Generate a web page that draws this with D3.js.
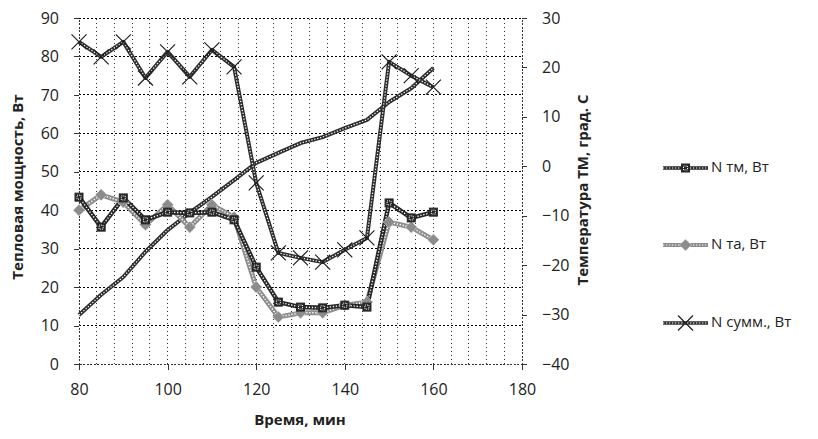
<!DOCTYPE html>
<html><head><meta charset="utf-8">
<script src="https://cdn.jsdelivr.net/npm/d3@7"></script>
<style>
html,body{margin:0;padding:0;background:#fff;}
text{font-family:"Open Sans","DejaVu Sans",sans-serif;fill:#222;}
</style></head>
<body><svg id="c" width="818" height="439"></svg>
<script>
const times = [80,85,90,95,100,105,110,115,120,125,130,135,140,145,150,155,160];
const nTm   = [43.4,35.6,43.2,37.5,39.5,39.3,39.5,37.5,25.2,16.1,14.8,14.6,15.3,14.8,41.9,38.0,39.5];
const nTa   = [40.0,44.0,42.1,36.2,41.4,35.6,41.4,38.2,20.0,12.2,13.3,13.3,15.3,16.1,36.9,35.6,32.3];
const nSum  = [83.8,79.9,83.8,74.4,81.2,74.7,81.7,77.3,47.1,28.9,27.6,26.5,29.7,32.8,78.6,75.0,72.0];
const tempTM= [-30.1,-26.0,-22.4,-17.3,-12.9,-9.4,-6.2,-2.8,0.7,2.7,4.7,5.9,7.7,9.4,13.0,15.8,19.9];
const xTicks = [80,100,120,140,160,180];
const yLeftTicks = [0,10,20,30,40,50,60,70,80,90];
const yRightTicks = [-40,-30,-20,-10,0,10,20,30];
const legendLabels = ["N тм, Вт","N та, Вт","N сумм., Вт"];

const svg = d3.select("#c");
const x = d3.scaleLinear([80,180],[79,522]);
const yL = d3.scaleLinear([0,90],[364,18]);
const yR = d3.scaleLinear([-40,30],[364,18]);

// gridlines
const grid = svg.append("g").attr("shape-rendering","crispEdges");
grid.selectAll("line.v").data(d3.range(84,180,4)).join("line")
  .attr("x1",d=>x(d)).attr("x2",d=>x(d)).attr("y1",yL(0)).attr("y2",yL(90))
  .attr("stroke","#333").attr("stroke-width",1).attr("stroke-dasharray","1.5,2.5");
grid.selectAll("line.h").data(yLeftTicks.slice(1)).join("line")
  .attr("x1",x(80)).attr("x2",x(180)).attr("y1",d=>yL(d)).attr("y2",d=>yL(d))
  .attr("stroke","#000").attr("stroke-width",1).attr("stroke-dasharray","2,2");

// axes
function styleAxis(g){
  g.attr("shape-rendering","crispEdges");
  g.select(".domain").attr("stroke","#333").attr("stroke-width",1).attr("stroke-dasharray","2,1.5");
  g.selectAll(".tick line").attr("stroke","#333").attr("stroke-width",1);
  g.selectAll(".tick text").style("font-size","16px").attr("fill","#222");
}
svg.append("g").attr("transform",`translate(0,${yL(0)})`)
  .call(d3.axisBottom(x).tickValues(xTicks).tickSize(6).tickPadding(14).tickSizeOuter(0))
  .call(styleAxis);
svg.append("g").attr("transform",`translate(${x(80)},0)`)
  .call(d3.axisLeft(yL).tickValues(yLeftTicks).tickSize(5).tickPadding(15).tickSizeOuter(0))
  .call(styleAxis);
svg.append("g").attr("transform",`translate(${x(180)},0)`)
  .call(d3.axisRight(yR).tickValues(yRightTicks).tickSize(5).tickPadding(15).tickSizeOuter(0))
  .call(styleAxis);

// titles
svg.append("text").attr("transform","translate(19,187) rotate(-90)").attr("text-anchor","middle")
  .attr("dominant-baseline","middle").style("font-size","15px").style("font-weight","bold").text("Тепловая мощность, Вт");
svg.append("text").attr("transform","translate(584,190) rotate(-90)").attr("text-anchor","middle")
  .attr("dominant-baseline","middle").style("font-size","15px").style("font-weight","bold").text("Температура ТМ, град. С");
svg.append("text").attr("x",300).attr("y",421).attr("text-anchor","middle")
  .attr("dominant-baseline","middle").style("font-size","15px").style("font-weight","bold").text("Время, мин");

// series
function beadLine(vals, yS, color, w, name){
  const line = d3.line().x((d,i)=>x(times[i])).y(d=>yS(d));
  const g = svg.append("g").attr("class",name);
  g.append("path").attr("d",line(vals)).attr("fill","none").attr("stroke",color)
    .attr("stroke-width",w).attr("stroke-linejoin","round");
  g.append("path").attr("d",line(vals)).attr("fill","none").attr("stroke","#fff")
    .attr("stroke-width",Math.max(1,w*0.3)).attr("stroke-dasharray","1.3,1.7");
  return g;
}
beadLine(tempTM, yR, "#2e2e2e", 4, "temp");
beadLine(nTa, yL, "#8c8c8c", 5, "nta");
beadLine(nTm, yL, "#262626", 4.5, "ntm");
beadLine(nSum, yL, "#2e2e2e", 4, "nsum");

function markSquare(g, cx, cy, col){
  g.append("rect").attr("x",cx-4).attr("y",cy-4).attr("width",8).attr("height",8)
    .attr("fill",col).attr("stroke",col).attr("stroke-width",1);
  g.append("rect").attr("x",cx-2).attr("y",cy-2).attr("width",4).attr("height",4)
    .attr("fill","none").attr("stroke","#fff").attr("stroke-width",1).attr("stroke-dasharray","1,1");
}
function markDiamond(g, cx, cy, col){
  g.append("path").attr("d",`M${cx},${cy-6}L${cx+6},${cy}L${cx},${cy+6}L${cx-6},${cy}Z`)
    .attr("fill",col).attr("stroke","#fff").attr("stroke-width",0.8).attr("stroke-dasharray","1,1");
}
function markX(g, cx, cy){
  g.append("path").attr("d",`M${cx-7.5},${cy-7.5}L${cx+7.5},${cy+7.5}M${cx-7.5},${cy+7.5}L${cx+7.5},${cy-7.5}`)
    .attr("stroke","#1e1e1e").attr("stroke-width",1.2).attr("fill","none");
}
const gTa = svg.append("g");
nTa.forEach((v,i)=>markDiamond(gTa, x(times[i]), yL(v), "#8c8c8c"));
const gTm = svg.append("g");
nTm.forEach((v,i)=>markSquare(gTm, x(times[i]), yL(v), "#262626"));
const gSum = svg.append("g");
nSum.forEach((v,i)=>markX(gSum, x(times[i]), yL(v)));

// legend
const legY = [168,245,323];
const legCols = ["#262626","#8c8c8c","#2e2e2e"];
legendLabels.forEach((lab,i)=>{
  const g = svg.append("g");
  const y = legY[i];
  g.append("line").attr("x1",663).attr("x2",708).attr("y1",y).attr("y2",y)
    .attr("stroke",legCols[i]).attr("stroke-width",i===1?4:3.5);
  g.append("line").attr("x1",663).attr("x2",708).attr("y1",y).attr("y2",y)
    .attr("stroke","#fff").attr("stroke-width",1.1).attr("stroke-dasharray","1.3,1.7");
  if(i===0) markSquare(g,685.5,y,legCols[0]);
  if(i===1) markDiamond(g,685.5,y,legCols[1]);
  if(i===2) markX(g,685.5,y);
  g.append("text").attr("x",711).attr("y",y).attr("dominant-baseline","middle")
    .style("font-size","15px").attr("fill","#222").text(lab);
});
</script></body></html>
